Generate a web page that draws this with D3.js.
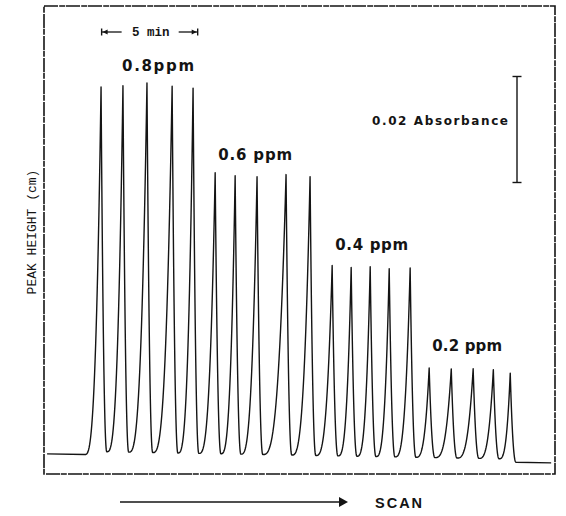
<!DOCTYPE html>
<html>
<head>
<meta charset="utf-8">
<script src="https://cdn.jsdelivr.net/npm/d3@7"></script>
<style>
  html, body { margin: 0; padding: 0; background: #fff; }
  svg { display: block; }
</style>
</head>
<body>
<svg id="chart" width="566" height="516"></svg>
<script>
// ---------------- DATA ----------------
const concentrations = ["0.8", "0.6", "0.4", "0.2"];
const concLabels = ["0.8ppm", "0.6 ppm", "0.4 ppm", "0.2 ppm"];
// peak apex times (min) for each standard (5 replicate injections)
const peakTimes08 = [2.97, 4.11, 5.36, 6.67, 7.76];
const peakTimes06 = [8.91, 9.95, 11.09, 12.60, 13.85];
const peakTimes04 = [15.00, 15.99, 16.98, 17.97, 19.06];
const peakTimes02 = [20.05, 21.20, 22.34, 23.39, 24.27];
// peak heights above baseline (absorbance)
const peakHeights08 = [0.0694, 0.0697, 0.0703, 0.0698, 0.0695];
const peakHeights06 = [0.0536, 0.0531, 0.0530, 0.0535, 0.0532];
const peakHeights04 = [0.0365, 0.0362, 0.0364, 0.0361, 0.0363];
const peakHeights02 = [0.0175, 0.0174, 0.0175, 0.0174, 0.0168];
// baseline drift (time, absorbance)
const baselineTimes = [0.16, 26.4];
const baselineValues = [0.0, -0.0017];
const valleyOffset = 0.0006;       // signal does not fully return between injections
const scaleBarValue = 0.02;        // absorbance scale bar
const timeBarStart = 3.0, timeBarLength = 5; // minutes
const axisLabel = "PEAK HEIGHT (cm)";
const scanLabel = "SCAN";
const absLabel = "0.02 Absorbance";

// ---------------- LAYOUT ----------------
const svg = d3.select("#chart");
const frame = { left: 44, right: 555, top: 6, bottom: 474 };
const x = d3.scaleLinear().domain([0, 26.6]).range([frame.left, frame.right]);
const y = d3.scaleLinear().domain([-0.0038, 0.0845]).range([frame.bottom, frame.top]);
const base = d3.scaleLinear().domain(baselineTimes).range(baselineValues);

const ink = "#141414";

// frame
svg.append("rect")
  .attr("x", frame.left).attr("y", frame.top)
  .attr("width", frame.right - frame.left).attr("height", frame.bottom - frame.top)
  .attr("fill", "none").attr("stroke", ink).attr("stroke-width", 1.6)
  .attr("stroke-dasharray", "14,1.2,6,0.8");

// ---------------- TRACE ----------------
const allTimes = [].concat(peakTimes08, peakTimes06, peakTimes04, peakTimes02);
const allHeights = [].concat(peakHeights08, peakHeights06, peakHeights04, peakHeights02);
const fallW = 0.30;   // min: fast return
const riseW = 0.85;   // min: rise of first peak from baseline
const pRise = 3.0, rFall = 2.2, N = 30;

const pts = [];
pts.push([baselineTimes[0], base(baselineTimes[0])]);
allTimes.forEach((tA, i) => {
  const h = allHeights[i];
  const tStart = i === 0 ? tA - riseW : allTimes[i - 1] + fallW;
  const v0 = i === 0 ? 0 : valleyOffset;
  for (let k = 0; k <= N; k++) {
    const s = k / N;
    const tt = tStart + s * (tA - tStart);
    pts.push([tt, base(tt) + v0 + (h - v0) * Math.pow(s, pRise)]);
  }
  const vEnd = i === allTimes.length - 1 ? 0 : valleyOffset;
  for (let k = 1; k <= N; k++) {
    const u = k / N;
    const tt = tA + u * fallW;
    pts.push([tt, base(tt) + vEnd + (h - vEnd) * Math.pow(1 - u, rFall)]);
  }
});
pts.push([baselineTimes[1], base(baselineTimes[1])]);

const line = d3.line().x(d => x(d[0])).y(d => y(d[1]));
svg.append("path")
  .attr("d", line(pts))
  .attr("fill", "none").attr("stroke", ink)
  .attr("stroke-width", 1.4).attr("stroke-linejoin", "round");

// ---------------- LABELS ----------------
const groups = [peakTimes08, peakTimes06, peakTimes04, peakTimes02];
const groupH = [peakHeights08, peakHeights06, peakHeights04, peakHeights02];
const labelFont = "'DejaVu Sans', 'Liberation Sans', Arial, sans-serif";
const labelWidths = [72, 74, 73, 70];
groups.forEach((g, gi) => {
  const maxH = d3.max(groupH[gi]);
  const x0 = x(g[0]) + (gi === 0 ? 21 : 3);
  svg.append("text")
    .attr("x", x0)
    .attr("y", y(maxH) - 10)
    .attr("font-family", labelFont)
    .attr("font-size", 15).attr("font-weight", "bold")
    .attr("fill", ink)
    .attr("textLength", labelWidths[gi]).attr("lengthAdjust", "spacing")
    .text(concLabels[gi]);
});

// absorbance scale bar
const barX = 517;
const barTop = y(0.0845 - 0.0133), barBot = y(0.0845 - 0.0133 - scaleBarValue);
svg.append("line").attr("x1", barX).attr("x2", barX).attr("y1", barTop).attr("y2", barBot)
  .attr("stroke", ink).attr("stroke-width", 1.4);
[barTop, barBot].forEach(yy => {
  svg.append("line").attr("x1", barX - 4.5).attr("x2", barX + 4.5).attr("y1", yy).attr("y2", yy)
    .attr("stroke", ink).attr("stroke-width", 1.4);
});
svg.append("text")
  .attr("x", 508).attr("y", 125)
  .attr("text-anchor", "end")
  .attr("font-family", labelFont).attr("font-size", 12).attr("font-weight", "bold")
  .attr("fill", ink)
  .attr("textLength", 136).attr("lengthAdjust", "spacing")
  .text(absLabel);

// 5 min time bar
const tb0 = x(timeBarStart), tb1 = x(timeBarStart + timeBarLength), tby = 32;
const monoFont = "'Liberation Mono', 'DejaVu Sans Mono', monospace";
svg.append("line").attr("x1", tb0).attr("x2", tb0 + 20).attr("y1", tby).attr("y2", tby).attr("stroke", ink).attr("stroke-width", 1.3);
svg.append("line").attr("x1", tb1 - 19).attr("x2", tb1).attr("y1", tby).attr("y2", tby).attr("stroke", ink).attr("stroke-width", 1.3);
[tb0, tb1].forEach(xx => {
  svg.append("line").attr("x1", xx).attr("x2", xx).attr("y1", tby - 3.5).attr("y2", tby + 3.5).attr("stroke", ink).attr("stroke-width", 1.4);
});
svg.append("path").attr("d", `M${tb0 + 1},${tby} l5,-2.5 l0,5 z`).attr("fill", ink);
svg.append("path").attr("d", `M${tb1 - 1},${tby} l-5,-2.5 l0,5 z`).attr("fill", ink);
svg.append("text")
  .attr("x", (tb0 + tb1) / 2 + 1).attr("y", tby + 4)
  .attr("text-anchor", "middle")
  .attr("font-family", monoFont).attr("font-size", 12.5).attr("font-weight", "bold")
  .attr("fill", ink)
  .text(`${timeBarLength} min`);

// y-axis label
svg.append("text")
  .attr("transform", `translate(36, 232) rotate(-90)`)
  .attr("text-anchor", "middle")
  .attr("font-family", monoFont).attr("font-size", 13)
  .attr("fill", ink)
  .text(axisLabel);

// SCAN arrow
const sy = 502;
svg.append("line").attr("x1", 120).attr("x2", 341).attr("y1", sy).attr("y2", sy)
  .attr("stroke", ink).attr("stroke-width", 1.3);
svg.append("path").attr("d", `M348,${sy} l-9,-5 l0,10 z`).attr("fill", ink);
svg.append("text")
  .attr("x", 375).attr("y", sy + 5.5)
  .attr("font-family", "'Liberation Sans', Arial, sans-serif").attr("font-size", 14.5).attr("font-weight", "bold")
  .attr("fill", ink)
  .attr("letter-spacing", 2)
  .text(scanLabel);
</script>
</body>
</html>
